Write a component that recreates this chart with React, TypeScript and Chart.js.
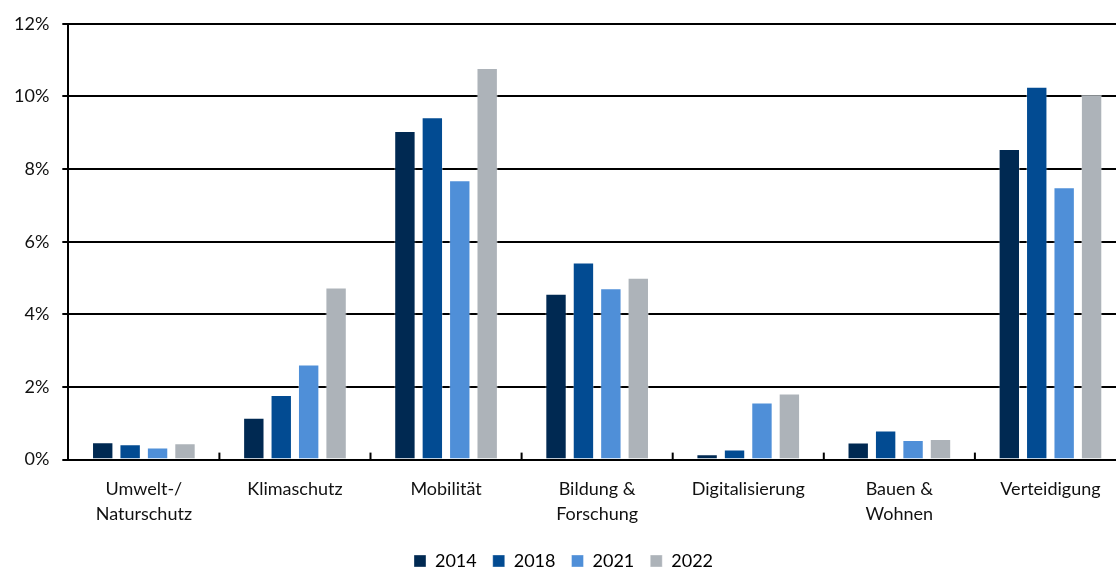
import React, { useEffect, useRef } from "react";
import { Chart, registerables } from "chart.js";

Chart.register(...registerables);

const categories: (string | string[])[] = [
  ["Umwelt-/", "Naturschutz"],
  "Klimaschutz",
  "Mobilität",
  ["Bildung &", "Forschung"],
  "Digitalisierung",
  ["Bauen &", "Wohnen"],
  "Verteidigung",
];

const years = ["2014", "2018", "2021", "2022"];
const values2014 = [0.48, 1.15, 9.05, 4.57, 0.15, 0.47, 8.55];
const values2018 = [0.42, 1.78, 9.43, 5.43, 0.28, 0.8, 10.27];
const values2021 = [0.33, 2.62, 7.69, 4.72, 1.57, 0.54, 7.5];
const values2022 = [0.45, 4.74, 10.78, 5.01, 1.82, 0.57, 10.06];
const colors = ["#002952", "#024B92", "#4F8FD8", "#ADB3B9"];
const yTicks = [0, 2, 4, 6, 8, 10, 12];

const FONT = "Lato, 'Open Sans', sans-serif";

const innerTicks = {
  id: "innerTicks",
  afterDatasetsDraw(chart: any) {
    const x = chart.scales.x;
    const y = chart.scales.y;
    const ctx = chart.ctx;
    const n = chart.data.labels.length;
    ctx.save();
    ctx.strokeStyle = "#000";
    ctx.lineWidth = 2;
    const base = y.getPixelForValue(0);
    for (let i = 1; i < n; i++) {
      const px = (x.getPixelForValue(i - 1) + x.getPixelForValue(i)) / 2;
      ctx.beginPath();
      ctx.moveTo(px, base);
      ctx.lineTo(px, base - 7);
      ctx.stroke();
    }
    ctx.restore();
  },
};

export default function App() {
  const ref = useRef<HTMLCanvasElement>(null);

  useEffect(() => {
    document.body.style.margin = "0";
    document.body.style.overflow = "hidden";
    const series = [values2014, values2018, values2021, values2022];
    const chart = new Chart(ref.current!, {
      type: "bar",
      data: {
        labels: categories,
        datasets: years.map((yr, i) => ({
          label: yr,
          data: series[i],
          backgroundColor: colors[i],
          borderColor: "rgba(255,255,255,0.35)",
          borderWidth: 1,
          categoryPercentage: 0.726,
          barPercentage: 0.78,
        })),
      },
      options: {
        animation: false,
        responsive: false,
        maintainAspectRatio: false,
        layout: { padding: { top: 14, right: 0, left: 1, bottom: 0 } },
        plugins: {
          tooltip: { enabled: false },
          legend: {
            position: "bottom",
            labels: {
              boxWidth: 12,
              boxHeight: 12,
              padding: 16,
              color: "#000",
              font: { family: FONT, size: 18 },
            },
          },
        },
        scales: {
          x: {
            grid: { display: false },
            border: { display: true, color: "#000", width: 2 },
            ticks: {
              color: "#111",
              font: { family: FONT, size: 18, lineHeight: 1.4 },
              maxRotation: 0,
              autoSkip: false,
              padding: 9,
            },
          },
          y: {
            min: 0,
            max: 12,
            afterBuildTicks(scale: any) {
              scale.ticks = yTicks.map((v) => ({ value: v }));
            },
            grid: {
              color: "#000",
              lineWidth: 2,
              drawTicks: true,
              tickLength: 6,
            },
            border: { display: true, color: "#000", width: 2 },
            ticks: {
              color: "#111",
              font: { family: FONT, size: 18 },
              padding: 13,
              callback: (v: any) => v + "%",
            },
          },
        },
      },
      plugins: [innerTicks],
    });
    return () => chart.destroy();
  }, []);

  return (
    <div style={{ width: 1126, height: 580 }}>
      <canvas ref={ref} width={1126} height={580} />
    </div>
  );
}
